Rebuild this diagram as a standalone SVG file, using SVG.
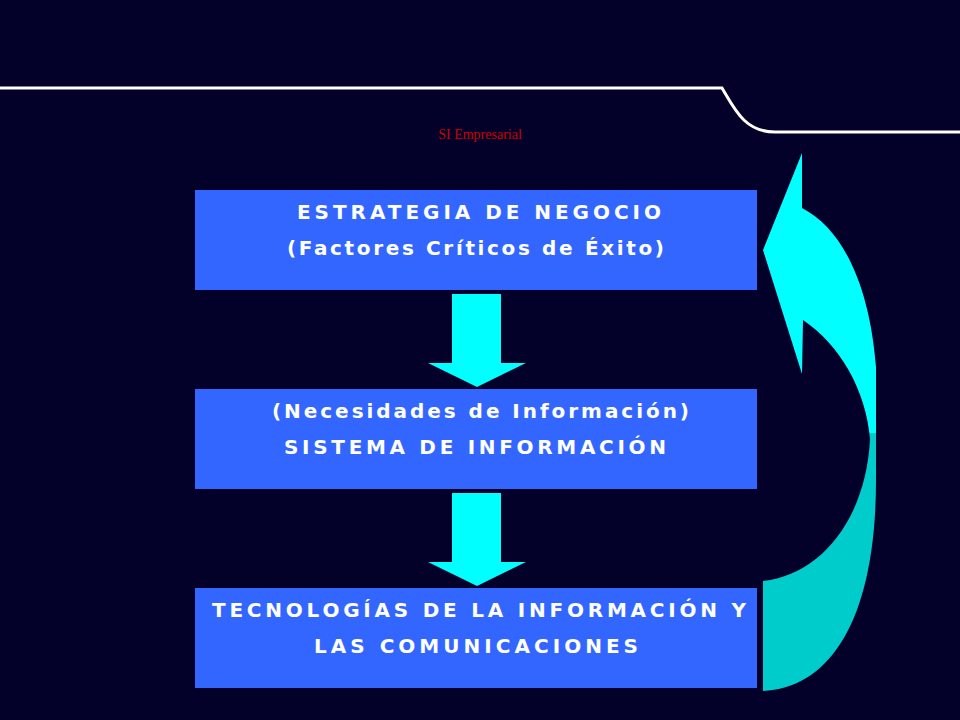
<svg xmlns="http://www.w3.org/2000/svg" width="960" height="720" viewBox="0 0 960 720">
<defs>
<style>
.box{fill:#3366FF}
.t{font-family:"DejaVu Sans",Verdana,sans-serif;font-weight:bold;font-size:20px;fill:#fff}
.down{fill:#00FFFF}
</style>
<linearGradient id="cg" x1="0" y1="153" x2="0" y2="691" gradientUnits="userSpaceOnUse">
<stop offset="0.52" stop-color="#00FFFF"/><stop offset="0.52" stop-color="#00CCCC"/>
</linearGradient>
</defs>
<rect width="960" height="720" fill="#03002A"/>
<path d="M0 88 H722 C735 110 745 132 775 132 H960" fill="none" stroke="#fff" stroke-width="3"/>
<text x="480" y="139" text-anchor="middle" font-family="Liberation Serif,serif" font-size="14" fill="#CC0000">SI Empresarial</text>
<g id="n1"><rect class="box" x="195" y="190" width="562" height="100"/>
<text class="t" x="297" y="219" textLength="364">ESTRATEGIA DE NEGOCIO</text>
<text class="t" x="287" y="255" textLength="377">(Factores Críticos de Éxito)</text></g>
<g id="n2"><rect class="box" x="195" y="389" width="562" height="100"/>
<text class="t" x="272" y="418" textLength="417">(Necesidades de Información)</text>
<text class="t" x="284" y="454" textLength="382">SISTEMA DE INFORMACIÓN</text></g>
<g id="n3"><rect class="box" x="195" y="588" width="562" height="100"/>
<text class="t" x="212" y="617" textLength="534">TECNOLOGÍAS DE LA INFORMACIÓN Y</text>
<text class="t" x="314" y="653" textLength="324">LAS COMUNICACIONES</text></g>
<g id="connectors">
<path class="down" d="M452 294 H501 V363 H526 L477 387 L428 363 H452 Z"/>
<path class="down" d="M452 493 H501 V562 H526 L477 586 L428 562 H452 Z"/>
<path fill="url(#cg)" d="M802 153 L763 250 L802 374 L803 320 C840 345 866 390 870 439 C866 520 820 575 763 581 L763 691 C830 688 876 620 876 480 L876 367 C870 290 845 230 802 208 Z"/>
</g>
</svg>
